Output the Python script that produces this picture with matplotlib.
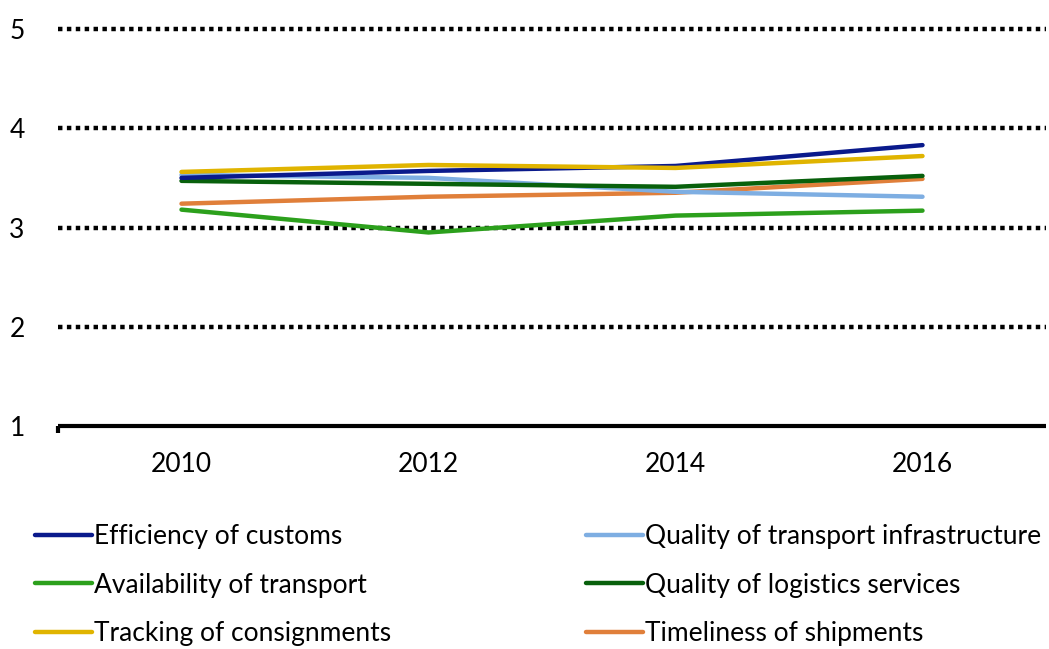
"""Logistics performance index components, 2010-2016."""

import matplotlib.pyplot as plt
from matplotlib.ticker import FixedLocator

plt.rcParams["font.family"] = ["Lato", "DejaVu Sans"]

years = ["2010", "2012", "2014", "2016"]

efficiency_customs = [3.50, 3.57, 3.62, 3.83]
quality_infrastructure = [3.53, 3.50, 3.36, 3.31]
availability_transport = [3.18, 2.95, 3.12, 3.17]
quality_logistics = [3.47, 3.44, 3.41, 3.52]
tracking_consignments = [3.56, 3.63, 3.60, 3.72]
timeliness_shipments = [3.24, 3.31, 3.35, 3.49]

y_ticks = [1, 2, 3, 4, 5]


def main() -> None:
    fig = plt.figure(figsize=(10.49, 6.49), dpi=100)
    ax = fig.add_axes([58 / 1049, 1 - 426 / 649, 988 / 1049, 397 / 649])

    x = list(range(len(years)))
    series = [
        ("Efficiency of customs", efficiency_customs, "#0a1a8c"),
        ("Availability of transport", availability_transport, "#2ca01c"),
        ("Tracking of consignments", tracking_consignments, "#e0b400"),
        ("Quality of transport infrastructure", quality_infrastructure, "#7eaee2"),
        ("Quality of logistics services", quality_logistics, "#08600c"),
        ("Timeliness of shipments", timeliness_shipments, "#e07f3a"),
    ]
    # draw order similar to the original (back to front)
    draw_order = [1, 5, 3, 4, 0, 2]
    handles = {}
    for i in draw_order:
        label, vals, color = series[i]
        (ln,) = ax.plot(x, vals, color=color, lw=3.2, label=label,
                        solid_capstyle="round")
        handles[i] = ln

    for y in y_ticks[1:]:
        ax.axhline(y, color="black", lw=3.2, linestyle=(0, (1, 1)),
                   zorder=0, clip_on=False)

    ax.set_xlim(-0.5, 3.5)
    ax.set_ylim(1, 5)
    ax.set_xticks(x)
    ax.set_xticklabels(years)
    ax.set_yticks(y_ticks)
    ax.tick_params(axis="x", length=0, pad=19, labelsize=19)
    ax.tick_params(axis="y", length=0, pad=24, labelsize=19)
    ax.xaxis.set_minor_locator(FixedLocator([-0.5]))
    ax.tick_params(axis="x", which="minor", length=5, width=3, color="black")

    for side in ["top", "right", "left"]:
        ax.spines[side].set_visible(False)
    ax.spines["bottom"].set_linewidth(3)
    ax.spines["bottom"].set_capstyle("butt")

    fig.legend(
        [handles[i] for i in range(6)],
        [s[0] for s in series],
        loc="upper left",
        bbox_to_anchor=(11 / 1049, 1 - 500 / 649),
        ncol=2,
        frameon=False,
        fontsize=19,
        handlelength=2.16,
        handletextpad=0.08,
        labelspacing=0.9,
        columnspacing=7.4,
    )

    fig.savefig("out.png", dpi=100)


if __name__ == "__main__":
    main()
